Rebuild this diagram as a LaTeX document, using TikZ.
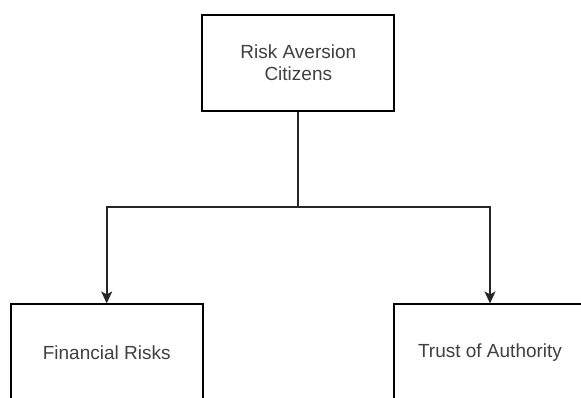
\documentclass[tikz,border=0pt]{standalone}
\usepackage{fontspec}
\setmainfont{Liberation Sans}
\usetikzlibrary{arrows.meta}
\begin{document}
\begin{tikzpicture}[x=1pt,y=1pt,
  box/.style={draw=black, line width=1.7pt, fill=white, minimum width=192pt,
    minimum height=96pt, inner sep=0pt, align=center, text=black!75,
    font=\fontsize{19}{22}\selectfont},
  link/.style={line width=1.7pt, draw=black!85},
  tip/.style={-{Stealth[length=12pt,width=11pt,inset=3pt]}}]
\useasboundingbox (0,0) rectangle (581,397);
\clip (0,0) rectangle (581,397);
\fill[white] (0,0) rectangle (581,397);
% parent and the two children
\node[box] (top) at (298.3,334.2) {Risk Aversion\\Citizens};
\node[box] (fin) at (106.7,44.7) {Financial Risks};
\node[box] (trust) at (490,44.7) {Trust of Authority};
% split point of the connector
\coordinate (split) at (298.3,189.7);
\draw[link] (top.south) -- (split);
\draw[link,tip] (split) -| (fin.north);
\draw[link,tip] (split) -| (trust.north);
\end{tikzpicture}
\end{document}
